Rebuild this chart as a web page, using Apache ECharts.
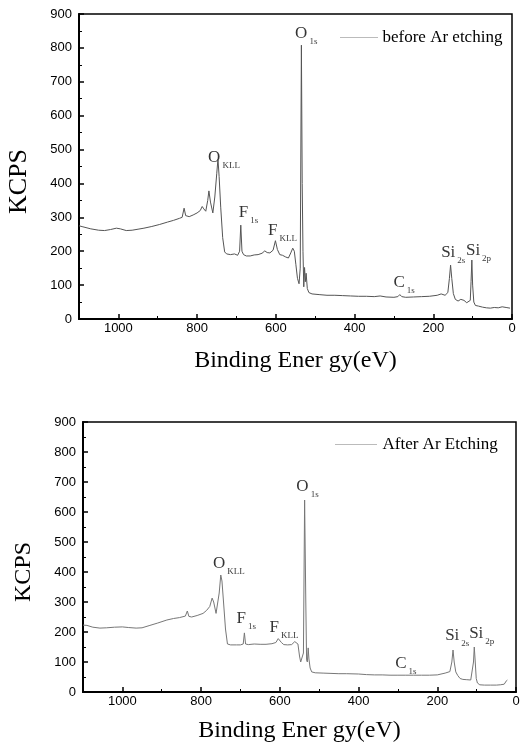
<!DOCTYPE html>
<html><head><meta charset="utf-8">
<script src="https://cdn.jsdelivr.net/npm/echarts@6/dist/echarts.min.js"></script>
<style>html,body{margin:0;padding:0;background:#fff}#c{width:524px;height:747px}</style>
</head><body><div id="c"></div>
<script>
const xTicks = [0, 200, 400, 600, 800, 1000];
const yTicks = [0, 100, 200, 300, 400, 500, 600, 700, 800, 900];
const seriesNames = ['before Ar etching', 'After Ar Etching'];

const beforeEnergy = [1100,1090,1070,1050,1035,1020,1005,995,980,965,950,935,915,895,875,860,845,838,833,829,820,810,800,792,787,783,778,773,770,766,760,755,750,747,744,740,735,730,725,715,705,697,692,689,686,682,675,665,655,645,635,628,622,615,607,601,596,590,583,575,568,562,557,553,549,545,541,538,535,533,531,529,527,525,523,520,516,508,490,470,450,430,410,390,370,350,335,320,300,290,285,280,270,250,230,210,190,180,170,163,159,156,153,149,144,137,130,122,115,110,106,104,102,100,97,93,85,75,65,55,45,35,25,15,5];
const beforeKCPS = [275,272,266,262,261,264,268,266,261,262,265,268,273,279,286,291,297,300,327,305,302,307,313,320,332,325,318,350,378,345,313,360,430,472,420,330,240,198,192,190,192,188,200,277,200,190,186,186,189,190,194,201,196,195,203,231,205,190,188,183,180,195,209,200,160,120,104,150,808,400,200,95,152,110,135,90,78,74,72,70,70,69,68,67,67,66,68,65,64,66,72,66,64,65,66,67,70,74,70,78,120,159,120,75,58,53,58,55,48,45,55,110,174,100,50,40,38,35,33,32,34,33,36,34,32];

const afterEnergy = [1100,1090,1075,1057,1040,1020,1000,985,965,950,930,910,887,870,855,840,835,831,824,810,795,786,778,772,768,762,758,754,750,747,743,738,733,725,710,700,693,690,687,680,665,650,635,620,610,604,600,596,590,580,570,562,558,554,550,547,543,540,537,534,532,530,528,526,523,519,510,490,470,450,430,400,380,360,340,320,300,280,260,240,220,200,180,168,163,160,157,153,148,142,135,125,115,111,108,106,104,101,98,92,80,65,50,40,30,24,22];
const afterKCPS = [223,222,216,213,214,216,217,215,213,214,222,230,240,245,248,253,270,252,250,255,262,272,285,313,300,262,268,330,390,370,300,210,160,157,157,157,160,197,160,158,160,159,159,161,165,178,180,165,158,157,158,168,173,160,120,100,95,130,640,300,107,100,147,110,80,67,64,63,62,61,61,60,58,57,57,56,56,56,56,56,56,57,63,68,100,140,100,67,55,45,42,41,40,45,100,150,110,45,30,24,23,23,23,24,26,38,40];

// peak annotations: [main letter, subscript], anchored (bottom-left) at energy / KCPS
const beforePeakMain = ['O', 'O', 'F', 'F', 'C', 'Si', 'Si'];
const beforePeakSub = ['1s', 'KLL', '1s', 'KLL', '1s', '2s', '2p'];
const beforePeakEnergy = [551, 772, 694, 620, 301, 180, 117];
const beforePeakKCPS = [829, 463, 301, 248, 94, 183, 189];

const afterPeakMain = ['O', 'O', 'F', 'F', 'C', 'Si', 'Si'];
const afterPeakSub = ['1s', 'KLL', '1s', 'KLL', '1s', '2s', '2p'];
const afterPeakEnergy = [558, 770, 710, 626, 307, 180, 119];
const afterPeakKCPS = [670, 413, 230, 200, 80, 173, 180];

const zip = (a, b) => a.map((v, i) => [v, b[i]]);
const serif = 'Liberation Serif';
const sans = 'Liberation Sans';

function xAxisOf(grid, gap) {
  return {
    type: 'value', gridIndex: grid, min: 0, max: 1100, interval: 200, inverse: true,
    name: 'Binding Ener gy(eV)', nameLocation: 'middle', nameGap: gap,
    nameTextStyle: { fontFamily: serif, fontSize: 24, letterSpacing: 1.5, color: '#000' },
    axisLine: { show: true, onZero: false, lineStyle: { color: '#000', width: 2 } },
    axisTick: { show: true, inside: true, length: 5, lineStyle: { color: '#000', width: 1.5 } },
    minorTick: { show: true, splitNumber: 2, length: 3, lineStyle: { color: '#000', width: 1 } },
    splitLine: { show: false },
    axisLabel: { margin: 3, fontFamily: sans, fontSize: 13, color: '#000',
      formatter: v => xTicks.includes(v) ? String(v) : '' }
  };
}
function yAxisOf(grid, gap, fs) {
  return {
    type: 'value', gridIndex: grid, min: yTicks[0], max: yTicks[yTicks.length - 1], interval: 100,
    name: 'KCPS', nameLocation: 'middle', nameGap: gap, nameRotate: 90,
    nameTextStyle: { fontFamily: serif, fontSize: fs, color: '#000', padding: [0, 30, 0, 0] },
    axisLine: { show: true, onZero: false, lineStyle: { color: '#000', width: 2 } },
    axisTick: { show: true, inside: true, length: 5, lineStyle: { color: '#000', width: 1.5 } },
    minorTick: { show: true, splitNumber: 2, length: 3, lineStyle: { color: '#000', width: 1 } },
    splitLine: { show: false },
    axisLabel: { margin: 7, fontFamily: sans, fontSize: 13, color: '#000',
      formatter: v => yTicks.includes(v) ? String(v) : '' }
  };
}
function peakSeries(idx, main, sub, en, kc) {
  return {
    type: 'scatter', xAxisIndex: idx, yAxisIndex: idx, symbolSize: 0, silent: true,
    data: en.map((e, i) => ({ value: [e, kc[i]], name: main[i] + '|' + sub[i] })),
    label: {
      show: true, position: [0, 0], align: 'left', verticalAlign: 'bottom', offset: [0, 8],
      formatter: p => { const [m, s] = p.name.split('|'); return '{m|' + m + '}{s|' + s + '}'; },
      rich: {
        m: { fontFamily: serif, fontSize: 17, color: '#000', lineHeight: 18, verticalAlign: 'bottom', padding: [0, 0, 4, 0] },
        s: { fontFamily: serif, fontSize: 9, color: '#000', lineHeight: 6, verticalAlign: 'bottom', padding: [0, 0, 0, 2] }
      }
    }
  };
}
const legendBase = {
  itemHeight: 12, itemGap: 5,
  textStyle: { fontFamily: serif, fontSize: 17, letterSpacing: 0.3, color: '#000' },
  itemStyle: { opacity: 0 },
  lineStyle: { type: 'dotted', color: '#777', width: 1 }
};

const chart = echarts.init(document.getElementById('c'), null, { renderer: 'canvas' });
chart.setOption({
  animation: false,
  backgroundColor: '#fff',
  grid: [
    { left: 79, top: 14, right: 12, height: 305, show: true, borderColor: '#000', borderWidth: 1.5, outerBoundsMode: 'none', containLabel: false },
    { left: 83, top: 422, right: 8, height: 270, show: true, borderColor: '#000', borderWidth: 1.5, outerBoundsMode: 'none', containLabel: false }
  ],
  legend: [
    Object.assign({}, legendBase, { data: [seriesNames[0]], left: 335, top: 24, itemWidth: 37 }),
    Object.assign({}, legendBase, { data: [seriesNames[1]], left: 330, top: 431, itemWidth: 42 })
  ],
  xAxis: [xAxisOf(0, 30), xAxisOf(1, 27)],
  yAxis: [yAxisOf(0, 47, 26), yAxisOf(1, 47, 24)],
  series: [
    { name: seriesNames[0], type: 'line', xAxisIndex: 0, yAxisIndex: 0, symbol: 'none', color: '#555',
      data: zip(beforeEnergy, beforeKCPS), lineStyle: { color: '#555', width: 1 } },
    { name: seriesNames[1], type: 'line', xAxisIndex: 1, yAxisIndex: 1, symbol: 'none', color: '#777',
      data: zip(afterEnergy, afterKCPS), lineStyle: { color: '#777', width: 1 } },
    peakSeries(0, beforePeakMain, beforePeakSub, beforePeakEnergy, beforePeakKCPS),
    peakSeries(1, afterPeakMain, afterPeakSub, afterPeakEnergy, afterPeakKCPS)
  ]
});
</script></body></html>
